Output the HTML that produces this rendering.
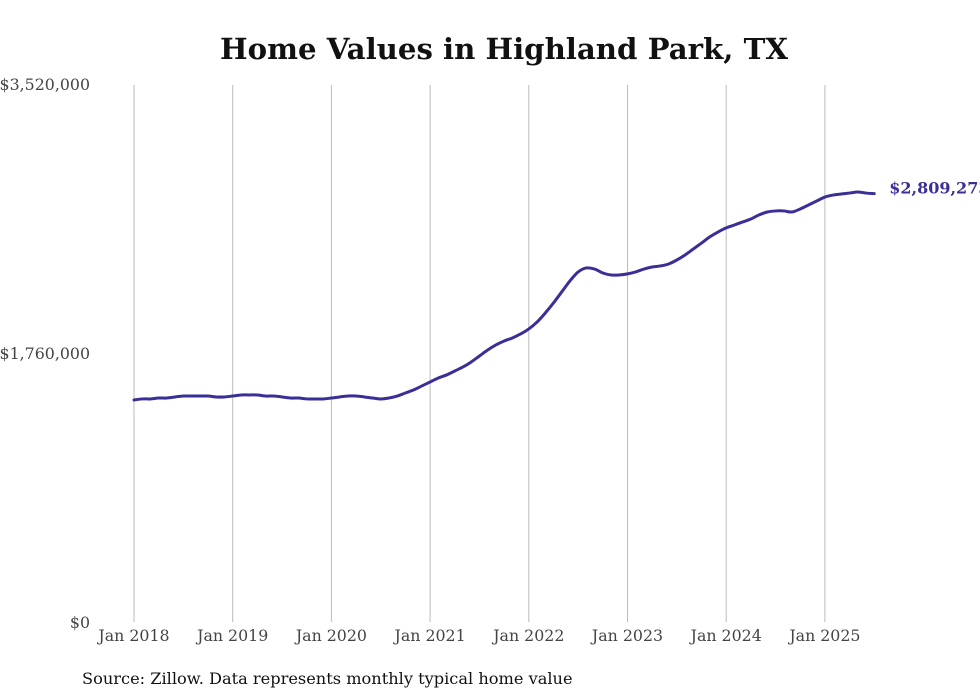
<!DOCTYPE html>
<html><head><meta charset="utf-8"><style>
html,body{margin:0;padding:0;background:#fff;}
body{width:980px;height:699px;overflow:hidden;position:relative;font-family:"DejaVu Serif","Liberation Serif",serif;}
</style></head><body>
<svg id="chart" width="980" height="699" xmlns="http://www.w3.org/2000/svg" style="position:absolute;left:0;top:0">
<text x="504" y="59" text-anchor="middle" font-family="DejaVu Serif, serif" font-weight="bold" font-size="29.2" fill="#111">Home Values in Highland Park, TX</text>
<g id="grid"></g>
<g id="yaxis"></g>
<g id="xaxis"></g>
<path id="line" fill="none" stroke="#3a2f97" stroke-width="3" stroke-linejoin="round" stroke-linecap="round"/>
<text id="endlabel" font-family="DejaVu Serif, serif" font-weight="bold" font-size="16" fill="#3a2f97"></text>
<text x="82" y="684" font-family="DejaVu Serif, serif" font-size="16.2" fill="#111">Source: Zillow. Data represents monthly typical home value</text>
</svg>
<script>
const startYear = 2018;
const values = [
1459,1466,1466,1472,1472,1479,1485,1485,1485,1485,1479,1479,
1485,1492,1492,1492,1485,1485,1479,1472,1472,1466,1466,1466,
1472,1479,1485,1485,1479,1472,1466,1472,1485,1505,1525,1551,
1577,1603,1623,1649,1675,1708,1747,1786,1819,1845,1865,1891,
1924,1969,2028,2094,2166,2238,2297,2323,2316,2290,2277,2277,
2284,2297,2316,2329,2336,2349,2375,2408,2447,2486,2526,2558,
2585,2604,2624,2643,2670,2689,2696,2696,2689,2709,2735,2761,
2787,2800,2807,2813,2820,2813,2809.273
];
const yTicks = [0, 1760000, 3520000];
const yTickLabels = ["$0", "$1,760,000", "$3,520,000"];
const xTickYears = [2018,2019,2020,2021,2022,2023,2024,2025];
const endLabelText = "$2,809,273";

const ns = "http://www.w3.org/2000/svg";
const x0 = 134, pxPerMonth = 98.7/12;
const yBase = 623, yTop = 85, yMax = 3520000;
function xScale(m){ return x0 + m*pxPerMonth; }
function yScale(v){ return yBase - v/yMax*(yBase-yTop); }

const grid = document.getElementById('grid');
const xaxis = document.getElementById('xaxis');
xTickYears.forEach(yr=>{
  const x = xScale((yr-startYear)*12);
  const l = document.createElementNS(ns,'line');
  
  
  l.setAttribute('x1',x);l.setAttribute('x2',x);l.setAttribute('y1',yTop);l.setAttribute('y2',622);
  l.setAttribute('stroke','#bbb');l.setAttribute('stroke-width','1');
  grid.appendChild(l);
  const t = document.createElementNS(ns,'text');
  
  
  t.setAttribute('x',x);t.setAttribute('y',641);t.setAttribute('text-anchor','middle');
  t.setAttribute('font-size','15.8');t.setAttribute('fill','#444');
  t.textContent = 'Jan ' + yr;
  xaxis.appendChild(t);
});
const yaxis = document.getElementById('yaxis');
yTicks.forEach((v,i)=>{
  const t = document.createElementNS(ns,'text');
  
  
  t.setAttribute('x',90);t.setAttribute('y',yScale(v)+5);t.setAttribute('text-anchor','end');
  t.setAttribute('font-size','15.8');t.setAttribute('fill','#444');
  t.textContent = yTickLabels[i];
  yaxis.appendChild(t);
});
const pts = values.map((v,i)=>[xScale(i), yScale(v*1000)]);
let d = 'M' + pts[0][0].toFixed(2) + ',' + pts[0][1].toFixed(2);
for (let i=0;i<pts.length-1;i++){
  const p0 = pts[Math.max(0,i-1)], p1 = pts[i], p2 = pts[i+1], p3 = pts[Math.min(pts.length-1,i+2)];
  const c1x = p1[0]+(p2[0]-p0[0])/6, c1y = p1[1]+(p2[1]-p0[1])/6;
  const c2x = p2[0]-(p3[0]-p1[0])/6, c2y = p2[1]-(p3[1]-p1[1])/6;
  d += 'C'+c1x.toFixed(2)+','+c1y.toFixed(2)+' '+c2x.toFixed(2)+','+c2y.toFixed(2)+' '+p2[0].toFixed(2)+','+p2[1].toFixed(2);
}
document.getElementById('line').setAttribute('d', d);
const last = values.length-1;
const el = document.getElementById('endlabel');
el.setAttribute('x', xScale(last)+15);
el.setAttribute('y', yScale(values[last]*1000)+0);
el.textContent = endLabelText;
</script>
</body></html>
